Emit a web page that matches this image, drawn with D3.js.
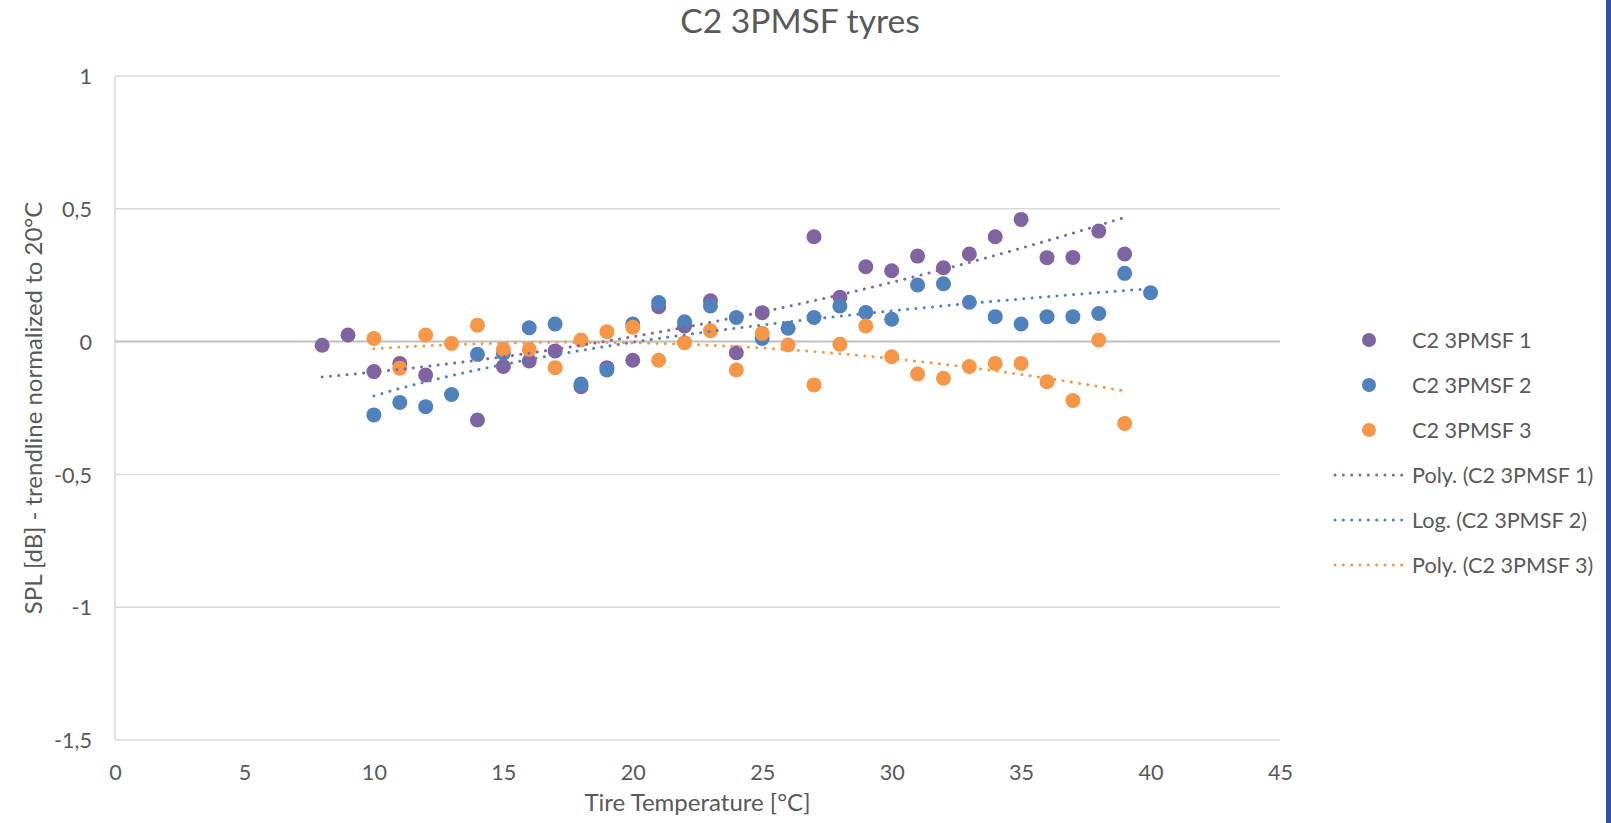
<!DOCTYPE html>
<html><head><meta charset="utf-8">
<script src="https://cdn.jsdelivr.net/npm/d3@7"></script>
<style>
body{margin:0;background:#fff;}
svg{display:block;}
text{font-family:Lato,"Open Sans",sans-serif;fill:#595959;}
</style>
</head><body>
<svg id="chart" width="1611" height="823"></svg>
<script>
// ---------- data ----------
const chartTitle = "C2 3PMSF tyres";
const xTitle = "Tire Temperature [°C]";
const yTitle = "SPL [dB] - trendline normalized to 20°C";
const seriesNames = ["C2 3PMSF 1", "C2 3PMSF 2", "C2 3PMSF 3"];
const trendNames = ["Poly. (C2 3PMSF 1)", "Log. (C2 3PMSF 2)", "Poly. (C2 3PMSF 3)"];
const seriesColors = ["#8064A2", "#4F81BD", "#F79646"];

const temps1 = [8,9,10,11,12,14,15,16,17,18,19,20,21,22,23,24,25,27,28,29,30,31,32,33,34,35,36,37,38,39];
const spl1   = [-0.014,0.025,-0.113,-0.082,-0.126,-0.295,-0.094,-0.073,-0.035,-0.170,-0.098,-0.070,0.131,0.059,0.154,-0.042,0.109,0.395,0.167,0.282,0.267,0.322,0.278,0.330,0.395,0.460,0.316,0.317,0.416,0.330];

const temps2 = [10,11,12,13,14,15,16,17,18,19,20,21,22,23,24,25,26,27,28,29,30,31,32,33,34,35,36,37,38,39,40];
const spl2   = [-0.276,-0.229,-0.245,-0.199,-0.048,-0.044,0.052,0.066,-0.160,-0.107,0.066,0.147,0.075,0.134,0.091,0.012,0.050,0.091,0.134,0.110,0.084,0.213,0.218,0.148,0.094,0.066,0.094,0.094,0.106,0.257,0.184];

const temps3 = [10,11,12,13,14,15,16,17,18,19,20,21,22,23,24,25,26,27,28,29,30,31,32,33,34,35,36,37,38,39];
const spl3   = [0.012,-0.100,0.025,-0.007,0.062,-0.029,-0.029,-0.098,0.006,0.037,0.054,-0.070,-0.004,0.041,-0.107,0.031,-0.013,-0.163,-0.010,0.059,-0.057,-0.122,-0.138,-0.094,-0.082,-0.082,-0.151,-0.222,0.006,-0.308];

const xTicks = [0,5,10,15,20,25,30,35,40,45];
const yTicks = [1,0.5,0,-0.5,-1,-1.5];
const yTickLabels = ["1","0,5","0","-0,5","-1","-1,5"];
const trendTypes = ["poly2","log","poly2"];

// ---------- regression helpers (Excel-style trendlines) ----------
function solve3(A, b){
  const M = A.map((r,i)=>[...r,b[i]]);
  for(let c=0;c<3;c++){
    let p=c; for(let r=c+1;r<3;r++) if(Math.abs(M[r][c])>Math.abs(M[p][c])) p=r;
    [M[c],M[p]]=[M[p],M[c]];
    for(let r=0;r<3;r++){ if(r===c) continue; const f=M[r][c]/M[c][c]; for(let k=c;k<4;k++) M[r][k]-=f*M[c][k]; }
  }
  return [M[0][3]/M[0][0], M[1][3]/M[1][1], M[2][3]/M[2][2]];
}
function fitPoly2(xs, ys){
  let s=[0,0,0,0,0], t=[0,0,0];
  xs.forEach((x,i)=>{ for(let k=0;k<5;k++) s[k]+=Math.pow(x,k); for(let k=0;k<3;k++) t[k]+=ys[i]*Math.pow(x,k); });
  const c = solve3([[s[0],s[1],s[2]],[s[1],s[2],s[3]],[s[2],s[3],s[4]]], t);
  return x => c[0]+c[1]*x+c[2]*x*x;
}
function fitLog(xs, ys){
  const lx = xs.map(Math.log);
  const mx = d3.mean(lx), my = d3.mean(ys);
  const a = d3.sum(lx.map((v,i)=>(v-mx)*(ys[i]-my))) / d3.sum(lx.map(v=>(v-mx)*(v-mx)));
  const b = my - a*mx;
  return x => a*Math.log(x)+b;
}

// ---------- layout ----------
const svg = d3.select("#chart");
const W = 1611, H = 823;
const plot = {left:115, right:1280, top:76, bottom:740};
const x = d3.scaleLinear().domain([0,45]).range([plot.left, plot.right]);
const y = d3.scaleLinear().domain([-1.5,1]).range([plot.bottom, plot.top]);

svg.append("rect").attr("width",W).attr("height",H).attr("fill","#fff");
// right edge bar
svg.append("rect").attr("x",1606).attr("y",0).attr("width",5).attr("height",H).attr("fill","#2E5597");

// gridlines
svg.append("g").selectAll("line").data(yTicks.filter(v=>v!==0)).join("line")
  .attr("x1",plot.left).attr("x2",plot.right)
  .attr("y1",d=>y(d)).attr("y2",d=>y(d))
  .attr("stroke","#D9D9D9").attr("stroke-width",1.5);
// vertical axis line
svg.append("line").attr("x1",x(0)).attr("x2",x(0)).attr("y1",plot.top).attr("y2",plot.bottom)
  .attr("stroke","#D9D9D9").attr("stroke-width",1.5);
// horizontal axis line at 0
svg.append("line").attr("x1",plot.left).attr("x2",plot.right).attr("y1",y(0)).attr("y2",y(0))
  .attr("stroke","#BFBFBF").attr("stroke-width",2);

// axis tick labels via d3 axes (domain/ticks hidden)
const xAxis = d3.axisBottom(x).tickValues(xTicks).tickSize(0).tickPadding(0).tickFormat(d3.format("d"));
const gx = svg.append("g").attr("transform",`translate(0,${plot.bottom})`).call(xAxis);
gx.select(".domain").remove();
gx.selectAll("text").attr("y",40).attr("dy",null).attr("font-size","21.6px").attr("fill","#595959")
  .style("font-family","Lato,'Open Sans',sans-serif");

const yAxis = d3.axisLeft(y).tickValues(yTicks).tickSize(0).tickPadding(0)
  .tickFormat((d,i)=>yTickLabels[yTicks.indexOf(d)]);
const gy = svg.append("g").attr("transform",`translate(92,0)`).call(yAxis);
gy.select(".domain").remove();
gy.selectAll("text").attr("x",0).attr("dy","0.36em").attr("font-size","21.6px").attr("fill","#595959")
  .style("font-family","Lato,'Open Sans',sans-serif");

// ---------- series ----------
const allX = [temps1,temps2,temps3], allY = [spl1,spl2,spl3];
const R = 7.5;
allX.forEach((xs,si)=>{
  svg.append("g").selectAll("circle").data(xs.map((t,i)=>[t,allY[si][i]])).join("circle")
    .attr("cx",d=>x(d[0])).attr("cy",d=>y(d[1])).attr("r",R)
    .attr("fill",seriesColors[si]);
});

// trendlines
const line = d3.line().x(d=>x(d[0])).y(d=>y(d[1]));
allX.forEach((xs,si)=>{
  const f = trendTypes[si]==="log" ? fitLog(xs,allY[si]) : fitPoly2(xs,allY[si]);
  const x0 = d3.min(xs), x1 = d3.max(xs);
  const pts = d3.range(0,201).map(k=>{ const t = x0+(x1-x0)*k/200; return [t,f(t)]; });
  svg.append("path").attr("d",line(pts)).attr("fill","none")
    .attr("stroke",seriesColors[si]).attr("stroke-width",3)
    .attr("stroke-linecap","round").attr("stroke-dasharray","0.01 8.32");
});

// ---------- titles ----------
svg.append("text").attr("x",800).attr("y",33).attr("text-anchor","middle")
  .attr("font-size","33.6px").text(chartTitle);
svg.append("text").attr("x",(plot.left+plot.right)/2).attr("y",811).attr("text-anchor","middle")
  .attr("font-size","24px").text(xTitle);
svg.append("text").attr("transform",`translate(42,${(plot.top+plot.bottom)/2}) rotate(-90)`)
  .attr("text-anchor","middle").attr("font-size","24px").text(yTitle);

// ---------- legend ----------
const lg = svg.append("g");
seriesNames.forEach((n,i)=>{
  const ly = 340 + i*45;
  lg.append("circle").attr("cx",1369).attr("cy",ly).attr("r",7).attr("fill",seriesColors[i]);
  lg.append("text").attr("x",1412).attr("y",ly+7.5).attr("font-size","21.6px").text(n);
});
trendNames.forEach((n,i)=>{
  const ly = 475 + i*45;
  lg.append("line").attr("x1",1335).attr("x2",1402).attr("y1",ly).attr("y2",ly)
    .attr("stroke",seriesColors[i]).attr("stroke-width",3)
    .attr("stroke-linecap","round").attr("stroke-dasharray","0.01 8.32");
  lg.append("text").attr("x",1412).attr("y",ly+8).attr("font-size","21.6px").text(n);
});
</script>
</body></html>
